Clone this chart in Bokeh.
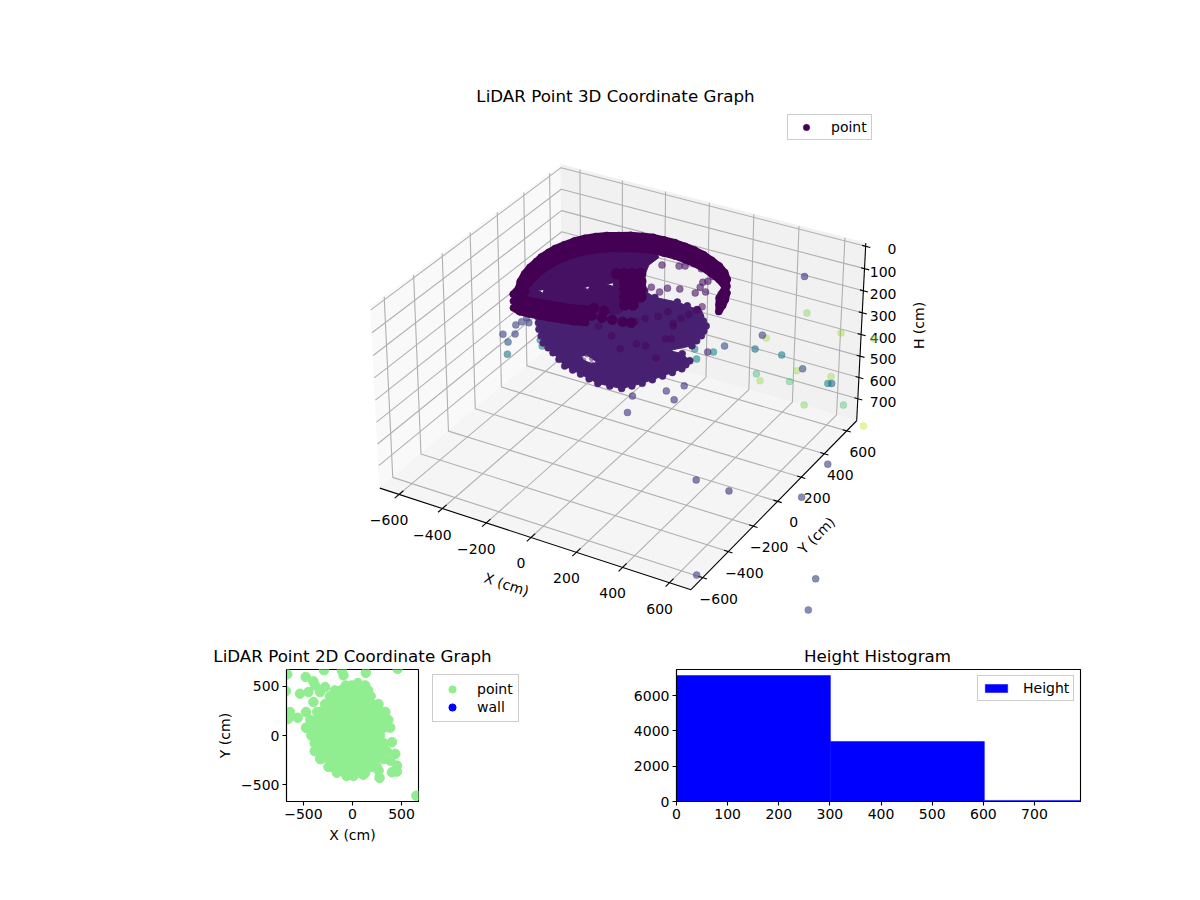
import numpy as np
from bokeh.plotting import figure
from bokeh.layouts import column, row
from bokeh.models import Range1d, Legend, LegendItem, FixedTicker, LinearColorMapper, ColumnDataSource
from bokeh.palettes import Viridis256
from bokeh.core.properties import value
from bokeh.embed import file_html
from bokeh.resources import INLINE

FONT = "DejaVu Sans"

# ---- 3D data: x (cm), y (cm), height (cm), colour value
OUT_X = [531,544,662,776,396,410,269,373,464,232,212,168,175,155,380,393,517,537,494,635,625,638,682,547,780,
         208,148,175,34,17,-399,-383,-359,-386,-356,-336,-319,-312,-275,-269,360,507,733,753,659,1051,1118]
OUT_Y = [487,494,563,629,409,416,335,395,448,313,302,276,280,268,399,407,479,490,465,547,541,549,574,496,560,
         121,86,101,19,10,-232,-222,-208,-224,-206,-195,-185,-181,-160,-156,-50,-55,345,80,-590,-391,-583]
OUT_H = [82,246,337,365,347,360,396,410,438,424,424,410,456,465,525,557,511,502,561,538,570,570,671,671,733,
         488,511,552,534,611,251,287,251,342,210,196,178,200,278,305,785,785,810,810,810,810,810]
OUT_C = [.15,.8,.85,.85,.2,.85,.25,.4,.45,.5,.12,.5,.5,.85,.65,.85,.85,.25,.7,.85,.5,.35,.7,.8,.92,
         .15,.15,.15,.15,.15,.2,.3,.2,.4,.2,.2,.2,.2,.45,.45,.15,.15,.2,.2,.2,.22,.22]

RING_X = [-25,-69,-116,-165,-205,-247,-284,-321,-328,-351,-369,-379,-382,-385,-380,-375,-360,-342,-317,-288,
          -255,-214,-174,-130,-89,-41,8,56,103,152,202,249,293,327,347,360,370]
RING_Y = [-237,-254,-264,-274,-281,-286,-290,-275,-225,-176,-115,-59,-7,35,82,122,166,213,254,288,
          317,340,364,380,394,396,397,390,381,365,340,314,277,234,184,138,89]
RING_LEVELS = [30, 60, 90]
RING_END_X = [-4,37,78,120,151,-28,17]
RING_END_Y = [-225,-219,-213,-207,-198,-169,-169]
RING_END_H = 60
INNER_X = [-293,-326,-351,-361,-364,-363,-352,-254,-201,-152]
INNER_Y = [-260,-189,-123,-66,-15,39,82,-290,-304,-302]

RIDGE_X = [-63,-36,-5,26,57,88,-9,22,53,84,115,17,48,79,110]
RIDGE_Y = [62,78,24,-29,-83,-136,93,39,-14,-68,-121,109,55,2,-52]
RIDGE_H = 30

SCAT_X = [106,163,207,273,152,54,115,135,257,270,268,200,361,303,267]
SCAT_Y = [35,59,76,78,17,210,236,248,167,184,226,259,120,105,128]
SCAT_H = 30

BOWL_X = [-401,-344,-273,-201,-110,-26,66,163,211,251,288,284,233,177,236,230,209,153,116,18,-78,-140,-202,-471]
BOWL_Y = [26,-57,-141,-187,-251,-274,-301,-289,-217,-131,-47,22,55,50,127,214,291,348,389,403,392,419,320,164]
BOWL_H = 300
BOWL_EDGE_X = [-372,-308,-237,-155,-68,20,115,187,231,270,286,233,220,181,135,67]
BOWL_EDGE_Y = [-15,-99,-164,-219,-262,-288,-295,-253,-174,-89,-12,170,252,320,368,396]
BOWL_DOT_X = [-159,-49,-27,9,23,98,121,141,43,81,161,8,-72,-154,-226,86,94,105,113,121]
BOWL_DOT_Y = [229,185,225,264,317,226,124,135,34,38,-23,-31,39,80,128,246,295,338,387,419]
BOWL_GAP_X = [-95,-80,-50,-15,-30,-70]
BOWL_GAP_Y = [-155,-135,-150,-165,-185,-178]

DOME_X = [-310,-393,-379,-300,-190,-70,13,10,35,116,103,-118]
DOME_Y = [-270,-49,120,255,336,361,257,185,110,-22,-209,-292]
DOME_H = 30
DOME_GAPS_X = [[-255,-238,-228],[-115,-103,-93],[-55,-36,-24]]
DOME_GAPS_Y = [[-200,-185,-213],[-100,-72,-100],[-28,-6,-33]]

# ---- 3D axes
X_TICKS = [-600,-400,-200,0,200,400,600]
Y_TICKS = [-600,-400,-200,0,200,400,600]
H_TICKS = [0,100,200,300,400,500,600,700]
XMIN, XMAX = -690, 690
YMIN, YMAX = -690, 690
HTOP, HFLOOR = -14, 805

# box corners as seen on the page, used to calibrate the projection
CAL_3D = [(XMAX,YMIN,HFLOOR),(XMIN,YMIN,HFLOOR),(XMAX,YMAX,HFLOOR),(XMAX,YMAX,HTOP),(XMIN,YMAX,HTOP),(XMIN,YMIN,HTOP)]
CAL_2D = [(691,589),(379,487),(856,421),(865,242),(561,164),(370,307)]

# ---- 2D scatter data
X2D = [-70,-10,45,
       -180,-120,-40,40,120,160,
       -230,-160,-80,0,80,160,185,
       -280,-200,-120,-40,40,120,200,265,
       -360,-320,-240,-160,-80,0,80,160,240,320,335,
       -430,-360,-280,-200,-120,-40,40,120,200,280,365,
       -470,-400,-320,-240,-160,-80,0,80,160,240,320,385,
       -420,-360,-280,-200,-120,-40,40,120,200,280,
       -385,-320,-240,-160,-80,0,80,160,240,320,
       -385,-360,-280,-200,-120,-40,40,120,200,280,350,
       -330,-320,-240,-160,-80,0,80,160,240,320,
       -245,-200,-120,-40,40,120,200,250,
       -160,-80,0,80,130,
       -60,10,110,
       -665,-679,-477,-399,-382,-290,-92,-109,136,460,55,130,-280,-331,-399,-535,-450,-638,-655,-559,-474,-474,651,
       402,436,385,453,402,453,276,266]
Y2D = [510,510,510,
       460,460,460,460,460,460,
       400,400,400,400,400,400,400,
       320,320,320,320,320,320,320,320,
       240,240,240,240,240,240,240,240,240,240,240,
       160,160,160,160,160,160,160,160,160,160,160,
       80,80,80,80,80,80,80,80,80,80,80,80,
       0,0,0,0,0,0,0,0,0,0,
       -80,-80,-80,-80,-80,-80,-80,-80,-80,-80,
       -160,-160,-160,-160,-160,-160,-160,-160,-160,-160,-160,
       -240,-240,-240,-240,-240,-240,-240,-240,-240,-240,
       -320,-320,-320,-320,-320,-320,-320,-320,
       -380,-380,-380,-380,-380,
       -412,-412,-400,
       624,453,597,552,511,665,614,665,638,680,535,511,494,443,341,426,443,239,170,181,239,78,-614,
       -68,-188,-256,-307,-375,-368,-433,-358]
LIM2D = 673

# ---- histogram
HIST_EDGES = [0, 301, 602, 790]
HIST_COUNTS = [7138, 3400, 60]
HIST_YMAX = 7478
HIST_XTICKS = [0,100,200,300,400,500,600,700]
HIST_YTICKS = [0,2000,4000,6000]

# ---- projection
A, b = [], []
for (X,Y,Z),(u,v) in zip(CAL_3D, CAL_2D):
    A.append([X,Y,Z,1,0,0,0,0,-u*X,-u*Y,-u*Z]); b.append(u)
    A.append([0,0,0,0,X,Y,Z,1,-v*X,-v*Y,-v*Z]); b.append(v)
_s = np.linalg.lstsq(np.array(A,float), np.array(b,float), rcond=None)[0]
P = np.append(_s, 1.0).reshape(3,4)

def proj(x, y, h):
    x, y, h = np.broadcast_arrays(np.asarray(x,float), np.asarray(y,float), np.asarray(h,float))
    w = P[2,0]*x+P[2,1]*y+P[2,2]*h+P[2,3]
    return (P[0,0]*x+P[0,1]*y+P[0,2]*h+P[0,3])/w, (P[1,0]*x+P[1,1]*y+P[1,2]*h+P[1,3])/w

MAIN_H = 668
p = figure(width=1184, height=MAIN_H, output_backend="svg", toolbar_location=None,
           x_range=Range1d(0,1184), y_range=Range1d(MAIN_H,0),
           min_border=0, min_border_left=0, min_border_right=0, min_border_top=0, min_border_bottom=0)
p.axis.visible = False
p.grid.visible = False
p.outline_line_color = None

def pane(a, c):
    xs, ys = proj(*zip(*a))
    p.patch(list(xs), list(ys), fill_color=c, line_color=c, line_width=1)
pane([(XMIN,YMIN,HFLOOR),(XMIN,YMAX,HFLOOR),(XMIN,YMAX,HTOP),(XMIN,YMIN,HTOP)], "#f9f9f9")
pane([(XMIN,YMAX,HFLOOR),(XMAX,YMAX,HFLOOR),(XMAX,YMAX,HTOP),(XMIN,YMAX,HTOP)], "#f1f1f1")
pane([(XMIN,YMIN,HFLOOR),(XMAX,YMIN,HFLOOR),(XMAX,YMAX,HFLOOR),(XMIN,YMAX,HFLOOR)], "#f5f5f5")

def polyline(points):
    xs, ys = proj(*zip(*points))
    return list(xs), list(ys)

gx, gy = [], []
for t in X_TICKS:
    a, c = polyline([(t,YMIN,HFLOOR),(t,YMAX,HFLOOR),(t,YMAX,HTOP)]); gx.append(a); gy.append(c)
for t in Y_TICKS:
    a, c = polyline([(XMAX,t,HFLOOR),(XMIN,t,HFLOOR),(XMIN,t,HTOP)]); gx.append(a); gy.append(c)
for t in H_TICKS:
    a, c = polyline([(XMIN,YMIN,t),(XMIN,YMAX,t),(XMAX,YMAX,t)]); gx.append(a); gy.append(c)
p.multi_line(gx, gy, line_color="#b0b0b0", line_width=1.1)

ax, ay = [], []
for seg in ([(XMIN,YMIN,HFLOOR),(XMAX,YMIN,HFLOOR)], [(XMAX,YMIN,HFLOOR),(XMAX,YMAX,HFLOOR)], [(XMAX,YMAX,HFLOOR),(XMAX,YMAX,HTOP)]):
    a, c = polyline(seg); ax.append(a); ay.append(c)
for t in X_TICKS:
    a, c = polyline([(t,YMIN-30,HFLOOR),(t,YMIN+30,HFLOOR)]); ax.append(a); ay.append(c)
for t in Y_TICKS:
    a, c = polyline([(XMAX-18,t,HFLOOR),(XMAX+18,t,HFLOOR)]); ax.append(a); ay.append(c)
for t in H_TICKS:
    a, c = polyline([(XMAX-15,YMAX,t),(XMAX+20,YMAX,t)]); ax.append(a); ay.append(c)
p.multi_line(ax, ay, line_color="black", line_width=1.1)

def minus(v):
    return str(v).replace("-", "\u2212")

def labels(xs, ys, texts, dx, dy, align="center"):
    p.text(list(np.asarray(xs)+dx), list(np.asarray(ys)+dy), text=texts, text_font=value(FONT), text_font_size="14px",
           text_color="black", text_align=align, text_baseline="middle")

tx, ty = proj(X_TICKS, YMIN, HFLOOR)
labels(tx, ty, [minus(t) for t in X_TICKS], -10, 26)
tx, ty = proj(XMAX, Y_TICKS, HFLOOR)
labels(tx, ty, [minus(t) for t in Y_TICKS], 16, 21)
tx, ty = proj(XMAX, YMAX, H_TICKS)
p.text([896]*len(H_TICKS), list(ty+3), text=[str(t) for t in H_TICKS], text_font=value(FONT), text_font_size="14px",
       text_align="right", text_baseline="middle")

def axis_label(x, y, t, ang):
    p.text([x],[y], text=[t], angle=ang, angle_units="deg", text_font=value(FONT), text_font_size="14px",
           text_align="center", text_baseline="middle")
axis_label(506,584,"X (cm)",-18)
axis_label(816,535,"Y (cm)",45)
axis_label(918,325,"H (cm)",90)
p.text([615,352,877],[95,655,655],
       text=["LiDAR Point 3D Coordinate Graph","LiDAR Point 2D Coordinate Graph","Height Histogram"],
       text_font=value(FONT),text_font_size="16.7px",text_align="center",text_baseline="middle")

mapper = LinearColorMapper(palette=Viridis256, low=0, high=1)
def dots(x, y, h, c, alpha=0.6, size=7):
    u, v = proj(x, y, h)
    c = list(c) if np.ndim(c) else [c]*len(u)
    src = ColumnDataSource(dict(u=list(u), v=list(v), c=c))
    return p.scatter("u", "v", source=src, size=size, marker="circle",
                     fill_color={"field":"c","transform":mapper}, line_color={"field":"c","transform":mapper},
                     fill_alpha=alpha, line_alpha=alpha, line_width=0.5)

# outliers: the pale, high-valued ones are further back and more faded
_lo = [i for i, c in enumerate(OUT_C) if c < .6]
_hi = [i for i, c in enumerate(OUT_C) if c >= .6]
for idx, al in ((_hi, .42), (_lo, .62)):
    dots([OUT_X[i] for i in idx], [OUT_Y[i] for i in idx], [OUT_H[i] for i in idx], [OUT_C[i] for i in idx], alpha=al)

def poly(x, y, h, c, gaps_x=(), gaps_y=(), lw=1):
    u, v = proj(x, y, h)
    col = Viridis256[int(c*255)]
    rings_u, rings_v = [list(u)], [list(v)]
    for gx_, gy_ in zip(gaps_x, gaps_y):
        gu, gv = proj(gx_, gy_, h)
        rings_u.append(list(gu)); rings_v.append(list(gv))
    p.multi_polygons([[rings_u]], [[rings_v]], fill_color=col, line_color=col, line_width=lw, line_join="round")

poly(BOWL_X, BOWL_Y, BOWL_H, 0.09, [BOWL_GAP_X], [BOWL_GAP_Y])
dots(BOWL_EDGE_X, BOWL_EDGE_Y, BOWL_H, 0.09, alpha=1)
dots(BOWL_X, BOWL_Y, BOWL_H, 0.09, alpha=1)
dots(BOWL_DOT_X, BOWL_DOT_Y, BOWL_H, 0.02, alpha=0.55)
dots(BOWL_GAP_X, BOWL_GAP_Y, BOWL_H, 0.09, alpha=0.5, size=5)
dots(SCAT_X, SCAT_Y, SCAT_H, 0.05, alpha=0.6)
poly(DOME_X, DOME_Y, DOME_H, 0.045, DOME_GAPS_X, DOME_GAPS_Y)

# saturated band of the ring
_u1, _v1 = proj(RING_X, RING_Y, RING_LEVELS[0])
_u2, _v2 = proj(RING_X, RING_Y, RING_LEVELS[-1])
p.patch(list(_u1)+list(_u2[::-1]), list(_v1)+list(_v2[::-1]), fill_color="#440154", line_color="#440154",
        line_width=7, line_join="round")

legend_r = None
for lv in RING_LEVELS:
    r = dots(RING_X, RING_Y, lv, 0.0, alpha=1)
    legend_r = legend_r or r
dots(INNER_X, INNER_Y, RING_LEVELS[1], 0.0, alpha=1, size=10)
dots(RING_END_X, RING_END_Y, RING_END_H, 0.0, alpha=1, size=10)
dots(RIDGE_X, RIDGE_Y, RIDGE_H, 0.0, alpha=1, size=11)

lg = Legend(items=[LegendItem(label="point", renderers=[legend_r], index=0)], location=(787, MAIN_H-140),
            label_text_font=FONT, label_text_font_size="14px", label_text_color="black", glyph_width=28, glyph_height=16, label_standoff=11,
            padding=4, margin=0, spacing=0, border_line_color="#cccccc", border_line_alpha=1, background_fill_alpha=0.8)
p.add_layout(lg)

# ---- bottom figures
def style(f, xt, yt):
    f.grid.visible = False
    f.outline_line_color = "black"
    f.outline_line_width = 1.1
    f.outline_line_alpha = 1
    f.xaxis.ticker = FixedTicker(ticks=xt)
    f.yaxis.ticker = FixedTicker(ticks=yt)
    f.xaxis.major_label_overrides = {t: minus(t) for t in xt}
    f.yaxis.major_label_overrides = {t: minus(t) for t in yt}
    for a in (f.xaxis[0], f.yaxis[0]):
        a.major_label_text_font = FONT
        a.major_label_text_font_size = "14px"
        a.major_label_text_color = "black"
        a.axis_label_text_font = FONT
        a.axis_label_text_font_size = "14px"
        a.axis_label_text_font_style = "normal"
        a.axis_label_text_color = "black"
        a.major_tick_in = 0
        a.major_tick_out = 4
        a.minor_tick_in = 0
        a.minor_tick_out = 0
        a.axis_line_color = "black"
        a.major_tick_line_color = "black"
        a.axis_line_width = 1.1
        a.major_tick_line_width = 1.1
        a.major_label_standoff = 3

B_H = 224
s = figure(width=431, height=B_H, output_backend="svg", toolbar_location=None,
           x_range=Range1d(-LIM2D,LIM2D), y_range=Range1d(-LIM2D,LIM2D),
           min_border_left=286, min_border_right=13, min_border_top=1, min_border_bottom=91,
           x_axis_label="X (cm)", y_axis_label="Y (cm)")
style(s, [-500,0,500], [-500,0,500])
s.scatter(X2D, Y2D, size=9.5, marker="circle", color="#90ee90")

# legend of the 2D graph, beside its frame
k = figure(width=169, height=B_H, output_backend="svg", toolbar_location=None,
           x_range=Range1d(0,1), y_range=Range1d(0,1), min_border=0,
           min_border_left=0, min_border_right=0, min_border_top=1, min_border_bottom=91)
k.axis.visible = False
k.grid.visible = False
k.outline_line_color = None
r1 = k.scatter([float("nan")], [float("nan")], size=9.5, marker="circle", color="#90ee90")
r2 = k.scatter([float("nan")], [float("nan")], size=9.5, marker="circle", color="blue")
k.add_layout(Legend(items=[LegendItem(label="point", renderers=[r1]), LegendItem(label="wall", renderers=[r2])],
                    location=(1,79), label_text_font=FONT, label_text_font_size="14px", label_text_color="black",
                    glyph_width=28, glyph_height=18,
                    label_standoff=11, padding=5, margin=0, spacing=0, border_line_color="#cccccc", border_line_alpha=1,
                    background_fill_alpha=0.8))

h = figure(width=584, height=B_H, output_backend="svg", toolbar_location=None,
           x_range=Range1d(0,HIST_EDGES[-1]), y_range=Range1d(0,HIST_YMAX),
           min_border_left=76, min_border_right=104, min_border_top=1, min_border_bottom=91)
style(h, HIST_XTICKS, HIST_YTICKS)
r3 = h.quad(left=HIST_EDGES[:-1], right=HIST_EDGES[1:], bottom=0, top=HIST_COUNTS, fill_color="blue", line_color="blue", line_width=0.5)
h.add_layout(Legend(items=[LegendItem(label="Height", renderers=[r3])],
                    location=(301,100), label_text_font=FONT, label_text_font_size="14px", label_text_color="black",
                    glyph_width=28, glyph_height=10,
                    label_standoff=13, padding=4, margin=0, spacing=0, border_line_color="#cccccc", border_line_alpha=1,
                    background_fill_alpha=0.8))

page = column(p, row(s, k, h, spacing=0), spacing=0)
open("out.html", "w").write(file_html(page, INLINE))
